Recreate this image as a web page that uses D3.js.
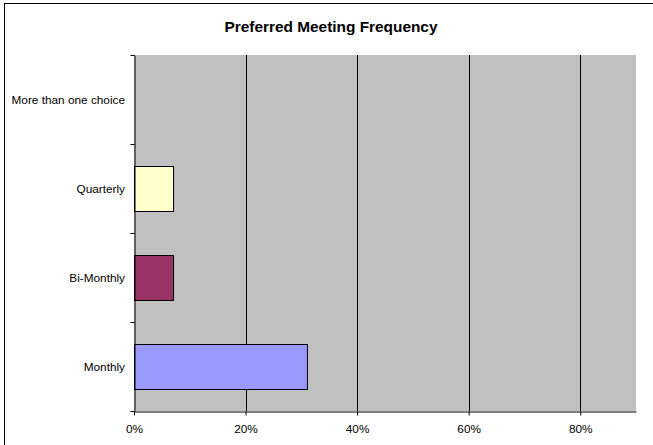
<!DOCTYPE html>
<html>
<head>
<meta charset="utf-8">
<script src="https://cdn.jsdelivr.net/npm/d3@7"></script>
<style>
body { margin: 0; background: #fff; }
svg text { font-family: "Liberation Sans", Arial, sans-serif; fill: #000; }
</style>
</head>
<body>
<div id="chart"></div>
<script>
var categories = ['Monthly', 'Bi-Monthly', 'Quarterly', 'More than one choice'];
var values = [31, 7, 7, 0];
var colors = ['#9999FF', '#993366', '#FFFFCC', '#C0C0C0'];
var xTicks = [0, 20, 40, 60, 80];

var width = 653, height = 445;
var plotLeft = 134, plotRight = 636, plotTop = 55, plotBottom = 411;

var svg = d3.select('#chart')
    .append('svg')
    .attr('width', width)
    .attr('height', height);

// outer chart border (runs off the picture on right and bottom)
svg.append('rect')
    .attr('x', 4.5).attr('y', 3.5)
    .attr('width', 700).attr('height', 500)
    .attr('fill', '#fff')
    .attr('stroke', '#000')
    .attr('stroke-width', 1);

svg.append('text')
    .attr('x', 331).attr('y', 32)
    .attr('text-anchor', 'middle')
    .style('font-size', '15.4px')
    .style('font-weight', 'bold')
    .text('Preferred Meeting Frequency');

var x = d3.scaleLinear().domain([0, 90]).range([plotLeft, plotRight]);
var y = d3.scaleBand().domain(categories.slice().reverse()).range([plotTop, plotBottom])
    .paddingInner(0.5).paddingOuter(0.25);
var yEdge = d3.scaleLinear().domain([0, categories.length]).range([plotBottom, plotTop]);

svg.append('rect')
    .attr('x', plotLeft).attr('y', plotTop)
    .attr('width', plotRight - plotLeft).attr('height', plotBottom - plotTop)
    .attr('fill', '#C0C0C0');

// gridlines
svg.append('g')
    .selectAll('line')
    .data(xTicks.slice(1))
    .enter().append('line')
    .attr('x1', function(d) { return Math.round(x(d)) + 0.5; })
    .attr('x2', function(d) { return Math.round(x(d)) + 0.5; })
    .attr('y1', plotTop).attr('y2', plotBottom)
    .attr('stroke', '#000');

// bars
svg.append('g')
    .selectAll('rect')
    .data(categories)
    .enter().append('rect')
    .attr('x', plotLeft + 0.5)
    .attr('y', function(d) { return Math.round(y(d)) + 0.5; })
    .attr('width', function(d, i) { return x(values[i]) - plotLeft; })
    .attr('height', Math.round(y.bandwidth()))
    .attr('fill', function(d, i) { return colors[i]; })
    .attr('stroke', '#000')
    .attr('stroke-width', function(d, i) { return values[i] > 0 ? 1 : 0; });

// x axis
var xAxis = svg.append('g')
    .attr('transform', 'translate(0,' + (plotBottom + 0.5) + ')')
    .call(d3.axisBottom(x).tickValues(xTicks).tickSize(4).tickSizeOuter(0)
        .tickFormat(function(d) { return d + '%'; }));
xAxis.select('.domain').attr('stroke', '#000');
xAxis.selectAll('.tick text').attr('dy', '1.2em').style('font-size', '11.8px');

// y axis line + ticks at category edges
var yAxis = svg.append('g')
    .attr('transform', 'translate(' + (plotLeft + 0.5) + ',0)')
    .call(d3.axisLeft(yEdge).ticks(4).tickSize(4).tickSizeOuter(0).tickFormat(''));
yAxis.select('.domain').attr('stroke', '#000');

svg.append('g')
    .selectAll('text')
    .data(categories)
    .enter().append('text')
    .attr('x', plotLeft - 9)
    .attr('y', function(d) { return y(d) + y.bandwidth() / 2; })
    .attr('dy', '0.35em')
    .attr('text-anchor', 'end')
    .style('font-size', '11.8px')
    .text(function(d) { return d; });
</script>
</body>
</html>
